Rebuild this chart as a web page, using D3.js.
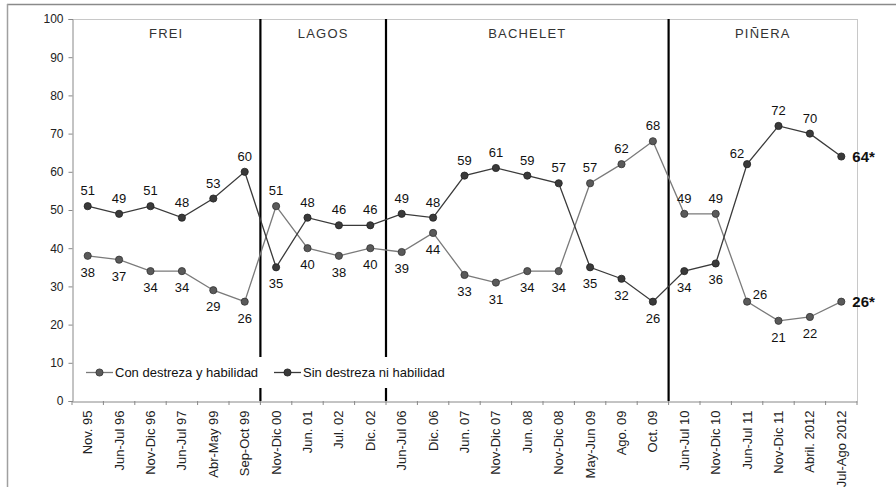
<!DOCTYPE html>
<html><head><meta charset="utf-8">
<script src="https://cdn.jsdelivr.net/npm/d3@7"></script>
<style>body{margin:0;background:#fff}svg{display:block;font-family:"Liberation Sans",Arial,sans-serif}</style>
</head><body>
<svg id="c" width="896" height="487"></svg>
<script>
const categories = ["Nov. 95","Jun-Jul 96","Nov-Dic 96","Jun-Jul 97","Abr-May 99","Sep-Oct 99",
  "Nov-Dic 00","Jun. 01","Jul. 02","Dic. 02",
  "Jun-Jul 06","Dic. 06","Jun. 07","Nov-Dic 07","Jun. 08","Nov-Dic 08","May-Jun 09","Ago. 09","Oct. 09",
  "Jun-Jul 10","Nov-Dic 10","Jun-Jul 11","Nov-Dic 11","Abril. 2012","Jul-Ago 2012"];
const conDestreza = [38,37,34,34,29,26, 51,40,38,40, 39,44,33,31,34,34,57,62,68, 49,49,26,21,22,26];
const sinDestreza = [51,49,51,48,53,60, 35,48,46,46, 49,48,59,61,59,57,35,32,26, 34,36,62,72,70,64];
const seriesNames = ["Con destreza y habilidad","Sin destreza ni habilidad"];
const periods = [{name:"FREI",start:0,end:6},{name:"LAGOS",start:6,end:10},{name:"BACHELET",start:10,end:19},{name:"PIÑERA",start:19,end:25}];
const yTicks = [0,10,20,30,40,50,60,70,80,90,100];

const svg = d3.select("#c");
const L=72, R=857, T=19, B=401;
const x = d3.scaleBand().domain(categories).range([L,R]);
const y = d3.scaleLinear().domain([0,100]).range([B,T]);
const cx = d => x(d)+x.bandwidth()/2;

// outer frame
svg.append("line").attr("x1",7).attr("x2",896).attr("y1",4.5).attr("y2",4.5).attr("stroke","#8a8a8a").attr("stroke-width",1.5);
svg.append("line").attr("x1",7.5).attr("x2",7.5).attr("y1",4).attr("y2",487).attr("stroke","#a0a0a0").attr("stroke-width",1.5);

// plot border top/right
svg.append("line").attr("x1",L).attr("x2",R).attr("y1",T+0.5).attr("y2",T+0.5).attr("stroke","#c8c8c8");
svg.append("line").attr("x1",R+0.5).attr("x2",R+0.5).attr("y1",T).attr("y2",B).attr("stroke","#c8c8c8");

// y axis
const ya = svg.append("g").attr("transform",`translate(${L+0.5},0)`)
  .call(d3.axisLeft(y).tickValues(yTicks).tickSize(4).tickPadding(5));
ya.select(".domain").attr("stroke","#888");
ya.selectAll(".tick line").attr("stroke","#888");
ya.selectAll(".tick text").attr("font-size","12px").attr("fill","#222").attr("font-family","Liberation Sans, Arial, sans-serif");

// x axis
const xa = svg.append("g").attr("transform",`translate(0,${B+0.5})`)
  .call(d3.axisBottom(x).tickSize(0).tickPadding(0));
xa.select(".domain").attr("stroke","#888");
xa.selectAll(".tick text").attr("font-size","13px").attr("fill","#222")
  .attr("font-family","Liberation Sans, Arial, sans-serif")
  .attr("text-anchor","end").attr("transform","rotate(-90)")
  .attr("x",-9).attr("y",0).attr("dy","0.35em");
// boundary ticks
svg.append("g").selectAll("line").data(d3.range(categories.length+1)).join("line")
  .attr("x1",i=>L+i*x.step()).attr("x2",i=>L+i*x.step())
  .attr("y1",B).attr("y2",B+4).attr("stroke","#888");

// period separators
svg.append("g").selectAll("line").data(periods.slice(1)).join("line")
  .attr("x1",p=>x(categories[p.start])).attr("x2",p=>x(categories[p.start]))
  .attr("y1",T).attr("y2",B).attr("stroke","#000").attr("stroke-width",2.2);

// period labels
svg.append("g").selectAll("text").data(periods).join("text")
  .attr("x",p=>(x(categories[p.start])+x(categories[p.end-1])+x.bandwidth())/2)
  .attr("y",38).attr("text-anchor","middle").attr("font-size","13px").attr("letter-spacing","1.2px")
  .attr("fill","#333").text(p=>p.name);

// lines
const styles = [
  {vals:conDestreza, line:"#7a7a7a", fill:"#5a5a5a", stroke:"#333"},
  {vals:sinDestreza, line:"#3a3a3a", fill:"#3a3a3a", stroke:"#222"}
];
styles.forEach(s=>{
  const line = d3.line().x((d,i)=>cx(categories[i])).y(d=>y(d));
  svg.append("path").datum(s.vals).attr("d",line).attr("fill","none").attr("stroke",s.line).attr("stroke-width",1.3);
});
styles.forEach(s=>{
  svg.append("g").selectAll("circle").data(s.vals).join("circle")
    .attr("cx",(d,i)=>cx(categories[i])).attr("cy",d=>y(d)).attr("r",3.6)
    .attr("fill",s.fill).attr("stroke",s.stroke).attr("stroke-width",0.8);
});

// data labels
const last = categories.length-1;
const special = {"0-21":[13,-3],"1-21":[-10,-6]}; // Jun-Jul 11 label nudges
styles.forEach((s,k)=>{
  const other = styles[1-k].vals;
  svg.append("g").selectAll("text").data(s.vals).join("text")
    .each(function(d,i){
      const t = d3.select(this);
      const px = cx(categories[i]), py = y(d);
      if(i===last){
        t.attr("x",px+11).attr("y",py+5).attr("font-weight","bold").attr("font-size","15px").attr("text-anchor","start").text(d+"*");
        return;
      }
      const above = d>=other[i];
      let dx=0, dy = above? -11 : 21;
      const key = k+"-"+i;
      if(special[key]){ dx=special[key][0]; dy=special[key][1]; }
      t.attr("x",px+dx).attr("y",py+dy).attr("text-anchor","middle").attr("font-size","13px").text(d);
    })
    .attr("fill","#111");
});

// legend
const lg = svg.append("g");
lg.append("rect").attr("x",80).attr("y",357).attr("width",378).attr("height",31).attr("fill","#fff");
const legendItems = [{x:86, name:seriesNames[0], s:styles[0]},{x:274, name:seriesNames[1], s:styles[1]}];
legendItems.forEach(it=>{
  lg.append("line").attr("x1",it.x).attr("x2",it.x+27).attr("y1",372.5).attr("y2",372.5).attr("stroke",it.s.line).attr("stroke-width",1.3);
  lg.append("circle").attr("cx",it.x+13.5).attr("cy",372.5).attr("r",3.6).attr("fill",it.s.fill).attr("stroke",it.s.stroke).attr("stroke-width",0.8);
  lg.append("text").attr("x",it.x+29).attr("y",377).attr("font-size","13px").attr("fill","#111").text(it.name);
});
</script>
</body></html>
